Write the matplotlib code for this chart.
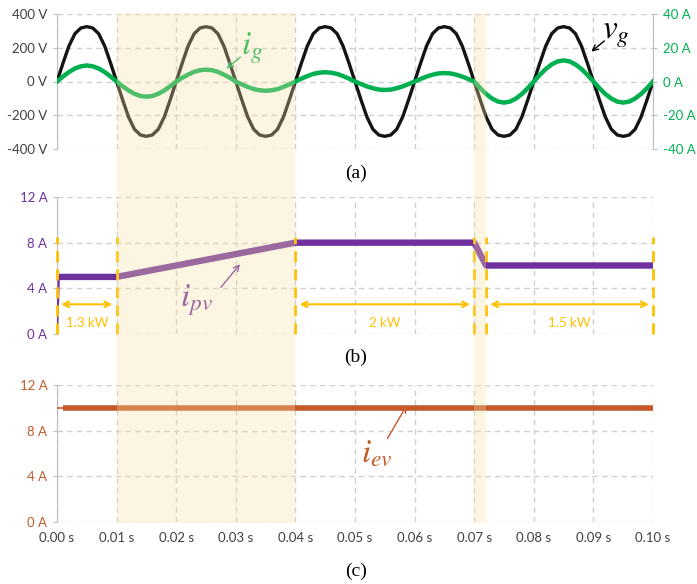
import numpy as np
import matplotlib.pyplot as plt

plt.rcParams['font.family'] = ['Lato', 'DejaVu Sans']
plt.rcParams['mathtext.fontset'] = 'stix'

# time base for panel (a), 1 ms samples
t_ac = np.linspace(0, 0.1, 101)

# grid voltage (V)
vg = [0, 108, 210, 283, 317, 325, 317, 283, 210, 108,
      0, -108, -210, -283, -317, -325, -317, -283, -210, -108,
      0, 108, 210, 283, 317, 325, 317, 283, 210, 108,
      0, -108, -210, -283, -317, -325, -317, -283, -210, -108,
      0, 108, 210, 283, 317, 325, 317, 283, 210, 108,
      0, -108, -210, -283, -317, -325, -317, -283, -210, -108,
      0, 108, 210, 283, 317, 325, 317, 283, 210, 108,
      0, -108, -210, -283, -317, -325, -317, -283, -210, -108,
      0, 108, 210, 283, 317, 325, 317, 283, 210, 108,
      0, -108, -210, -283, -317, -325, -317, -283, -210, -108,
      0]

# grid current (A)
ig = [0, 2.9, 5.6, 7.7, 9.0, 9.5, 9.0, 7.7, 5.6, 2.9,
      0, -2.8, -5.3, -7.3, -8.6, -9.0, -8.6, -7.3, -5.3, -2.8,
      0, 2.2, 4.1, 5.7, 6.7, 7.0, 6.7, 5.7, 4.1, 2.2,
      0, -1.7, -3.2, -4.5, -5.2, -5.5, -5.2, -4.5, -3.2, -1.7,
      0, 1.7, 3.2, 4.5, 5.2, 5.5, 5.2, 4.5, 3.2, 1.7,
      0, -1.5, -2.9, -4.0, -4.8, -5.0, -4.8, -4.0, -2.9, -1.5,
      0, 1.5, 2.9, 4.0, 4.8, 5.0, 4.8, 4.0, 2.9, 1.5,
      0, -3.9, -7.4, -10.1, -11.9, -12.5, -11.9, -10.1, -7.4, -3.9,
      0, 3.9, 7.4, 10.1, 11.9, 12.5, 11.9, 10.1, 7.4, 3.9,
      0, -3.9, -7.4, -10.1, -11.9, -12.5, -11.9, -10.1, -7.4, -3.9,
      0]

# PV current
t_pv = [0, 0.0003, 0.01, 0.04, 0.07, 0.072, 0.1]
ipv = [0, 5, 5, 8, 8, 6, 6]

# EV current
t_ev = [0, 0.001, 0.1]
iev = [10, 10, 10]

# power intervals in (b)
bounds = [0.0, 0.01, 0.04, 0.07, 0.072, 0.1]
power_spans = [(0.0, 0.01, '1.3 kW'), (0.04, 0.07, '2 kW'), (0.072, 0.1, '1.5 kW')]

# shaded transitions
shade = [(0.01, 0.04), (0.07, 0.072)]

x_ticks = [i / 100 for i in range(11)]
x_labels = ['%.2f s' % v for v in x_ticks]

GRID = '#d0d0d0'
SPINE = '#bfbfbf'
TXT = '#404040'
GREEN = '#00b050'
PURPLE = '#7030a0'
ORANGE = '#c55a28'
GOLD = '#ffc000'

fig = plt.figure(figsize=(6.97, 5.84), dpi=100)

L, W = 57 / 697, 596 / 697


def frame(ax, color, ylim, yticks, ylabels):
    ax.set_xlim(0, 0.1)
    ax.set_ylim(*ylim)
    ax.set_xticks(x_ticks)
    ax.set_yticks(yticks)
    ax.set_yticklabels(ylabels, color=color, fontsize=9.5)
    ax.grid(True, color=GRID, linestyle=(0, (4, 3)), linewidth=1)
    ax.set_axisbelow(True)
    for s in ['top', 'right', 'bottom']:
        ax.spines[s].set_visible(False)
    ax.spines['left'].set_color(SPINE)
    ax.tick_params(axis='y', length=3, color=SPINE, pad=4)
    ax.tick_params(axis='x', length=0)
    ax.patch.set_alpha(0)


# (a)
ax1 = fig.add_axes([L, 1 - 149 / 584, W, 135 / 584])
frame(ax1, TXT, (-400, 400), [-400, -200, 0, 200, 400],
      ['-400 V', '-200 V', '0 V', '200 V', '400 V'])
ax1.set_xticklabels([])
ax1.spines['right'].set_visible(True)
ax1.spines['right'].set_color(SPINE)
ax1.plot(t_ac, vg, color='#141414', lw=2.4, zorder=3)
ax1r = ax1.twinx()
ax1r.set_ylim(-40, 40)
ax1r.set_yticks([-40, -20, 0, 20, 40])
ax1r.set_yticklabels(['-40 A', '-20 A', '0 A', '20 A', '40 A'], color=GREEN, fontsize=9.5)
ax1r.tick_params(axis='y', length=3, color=SPINE, pad=4)
for s in ['top', 'left', 'bottom', 'right']:
    ax1r.spines[s].set_visible(False)
ax1r.plot(t_ac, ig, color=GREEN, lw=3.2)
ax1r.annotate('', xy=(0.0281, 6.6), xytext=(0.0311, 15.5),
              arrowprops=dict(arrowstyle='->', color=GREEN, lw=1))
ax1r.text(0.0308, 16, r'$i_g$', color=GREEN, fontsize=24)
ax1r.annotate('', xy=(0.0893, 16.7), xytext=(0.0922, 25.1),
              arrowprops=dict(arrowstyle='->', color='black', lw=1))
ax1r.text(0.0915, 25.5, r'$v_g$', color='black', fontsize=24)

# (b)
ax2 = fig.add_axes([L, 1 - 334 / 584, W, 137 / 584])
frame(ax2, PURPLE, (0, 12), [0, 4, 8, 12], ['0 A', '4 A', '8 A', '12 A'])
ax2.set_xticklabels([])
ax2.plot(t_pv[:2], ipv[:2], color=PURPLE, lw=1.6, zorder=3)
ax2.plot(t_pv[1:], ipv[1:], color=PURPLE, lw=4.6, zorder=3, solid_capstyle='butt')
ax2.vlines(bounds, 0, 8.5, colors=GOLD, linestyles=(0, (4, 2.5)), lw=2, zorder=4,
           clip_on=False)
for a, b, lab in power_spans:
    ax2.annotate('', xy=(a, 2.6), xytext=(b, 2.6),
                 arrowprops=dict(arrowstyle='<->', color=GOLD, lw=1.5,
                                 shrinkA=3, shrinkB=3))
    ax2.text((a + b) / 2, 1.0, lab, color=GOLD, fontsize=9.5, ha='center', va='center')
ax2.annotate('', xy=(0.0310, 6.3), xytext=(0.0272, 3.9),
             arrowprops=dict(arrowstyle='->', color=PURPLE, lw=1))
ax2.text(0.0262, 3.0, r'$i_{pv}$', color=PURPLE, fontsize=24, ha='right', va='center')

# (c)
ax3 = fig.add_axes([L, 1 - 522 / 584, W, 137 / 584])
frame(ax3, ORANGE, (0, 12), [0, 4, 8, 12], ['0 A', '4 A', '8 A', '12 A'])
ax3.set_xticklabels(x_labels, color=TXT, fontsize=9.5)
ax3.tick_params(axis='x', pad=7)
ax3.plot(t_ev[:2], iev[:2], color=ORANGE, lw=1.2, zorder=3)
ax3.plot(t_ev[1:], iev[1:], color=ORANGE, lw=4, zorder=3, solid_capstyle='butt')
ax3.annotate('', xy=(0.0589, 10.4), xytext=(0.0552, 7.1),
             arrowprops=dict(arrowstyle='->', color=ORANGE, lw=1))
ax3.text(0.0563, 6.0, r'$i_{ev}$', color=ORANGE, fontsize=24, ha='right', va='center')

# transparent overlay for the shaded transitions
ov = fig.add_axes([L, 1 - 523 / 584, W, 510 / 584], zorder=10)
ov.set_xlim(0, 0.1)
ov.axis('off')
for a, b in shade:
    ov.axvspan(a, b, color='#f7e1a3', alpha=0.32, lw=0)

for y, lab in [(173, '(a)'), (357, '(b)'), (571, '(c)')]:
    fig.text(356 / 697, 1 - y / 584, lab, ha='center', va='center',
             fontsize=14, family='Liberation Serif')

fig.savefig('out.png', dpi=100)
